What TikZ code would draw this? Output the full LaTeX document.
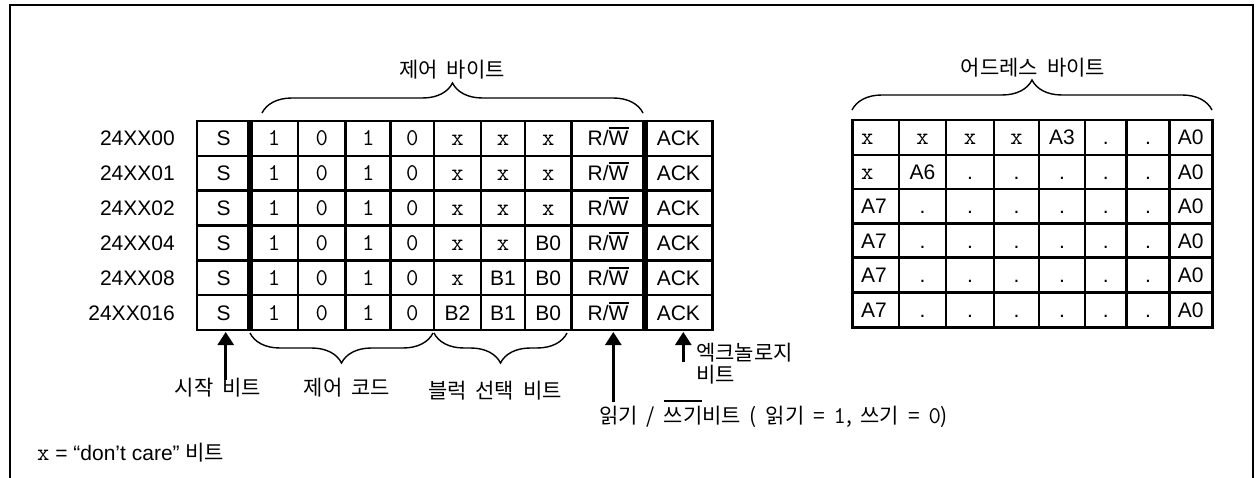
\documentclass[tikz,border=0pt]{standalone}
\usepackage{fontspec}
\setmainfont{Liberation Sans}
\newfontfamily\krf{Noto Sans CJK KR}
\usetikzlibrary{decorations.pathreplacing,arrows.meta}
\newcommand\fsz{\fontsize{21}{22}\selectfont}
\newcommand\krset{\fsz\krf\spaceskip=0.42em\relax}
\newcommand\monof{\fontsize{24}{22}\selectfont\ttfamily}
\newcommand\ovlk[2]{\leavevmode\vbox{\hrule height 2pt\kern #1\hbox{#2}}}
\newcommand\mx{{\monof x}}
\newcommand\dt{.}
\newcommand\RW{R/\ovlk{2pt}{W}}
\begin{document}
\begin{tikzpicture}[x=1pt,y=-1pt,
  grid/.style={line width=2.6pt, line cap=rect},
  sepline/.style={line width=6pt},
  txt/.style={inner sep=0pt, anchor=base, font=\fsz},
  kr/.style={inner sep=0pt, font=\krset},
  brc/.style={decorate, decoration={brace, amplitude=30pt}, line width=1.4pt},
  brcm/.style={decorate, decoration={brace, amplitude=30pt, mirror}, line width=1.4pt},
  arr/.style={line width=2.6pt, -{Triangle[width=16pt,length=13pt]}},
]
\useasboundingbox (0,0) rectangle (1260,478);
\draw[line width=2.6pt] (10,480) -- (10,5) -- (1253,5) -- (1253,480);

% ---------- left table ----------
\foreach \y in {121,155.83,190.67,225.5,260.33,295.17,330}
  \draw[grid] (197,\y) -- (712.3,\y);
\foreach \x in {197,298,345.7,390.7,434,481,525,571.7,712.3}
  \draw[grid] (\x,121) -- (\x,330);
\foreach \x in {250,644.5}
  \draw[sepline] (\x,119.7) -- (\x,331.3);

\foreach \lab/\ca/\cb/\cc [count=\i] in {24XX00/\mx/\mx/\mx, 24XX01/\mx/\mx/\mx, 24XX02/\mx/\mx/\mx, 24XX04/\mx/\mx/B0, 24XX08/\mx/B1/B0, 24XX016/B2/B1/B0}{
  \pgfmathsetmacro\yb{121+34.83*(\i-0.5)+7.5}
  \node[txt, anchor=base east] (lab\i) at (175,\yb) {\lab};
  \node[txt] (l\i s) at (223.5,\yb) {S};
  \node[txt] (l\i a) at (274,\yb) {\monof 1};
  \node[txt] (l\i b) at (321.8,\yb) {\monof 0};
  \node[txt] (l\i c) at (368.2,\yb) {\monof 1};
  \node[txt] (l\i d) at (412.3,\yb) {\monof 0};
  \node[txt] (l\i e) at (457.5,\yb) {\ca};
  \node[txt] (l\i f) at (503,\yb) {\cb};
  \node[txt] (l\i g) at (548.3,\yb) {\cc};
  \node[txt] (l\i h) at (608.1,\yb) {\RW};
  \node[txt] (l\i k) at (678.4,\yb) {ACK};
}

% ---------- right table ----------
\foreach \y in {120,155,189,223.3,257.7,292.7,327.3}
  \draw[grid] (852.7,\y) -- (1212.3,\y);
\foreach \x in {852.7,899,946,994,1039,1085,1126.7,1169.3,1212.3}
  \draw[grid] (\x,120) -- (\x,327.3);

\foreach \yy/\a/\b/\c/\d/\e/\f/\g/\h [count=\i] in {
  137.5/\mx/\mx/\mx/\mx/A3/\dt/\dt/A0,
  172/\mx/A6/\dt/\dt/\dt/\dt/\dt/A0,
  206.2/A7/\dt/\dt/\dt/\dt/\dt/\dt/A0,
  240.5/A7/\dt/\dt/\dt/\dt/\dt/\dt/A0,
  275.2/A7/\dt/\dt/\dt/\dt/\dt/\dt/A0,
  310/A7/\dt/\dt/\dt/\dt/\dt/\dt/A0}{
  \pgfmathsetmacro\yb{\yy+7.5}
  \node[txt, anchor=base west] (r\i a) at (861,\yb) {\a};
  \node[txt] (r\i b) at (922.5,\yb) {\b};
  \node[txt] (r\i c) at (970,\yb) {\c};
  \node[txt] (r\i d) at (1016.5,\yb) {\d};
  \node[txt] (r\i e) at (1062,\yb) {\e};
  \node[txt] (r\i f) at (1105.9,\yb) {\f};
  \node[txt] (r\i g) at (1148,\yb) {\g};
  \node[txt] (r\i h) at (1190.8,\yb) {\h};
}

% ---------- braces ----------
\coordinate (cb1) at (262,113);  \coordinate (cb2) at (643,113);
\draw[brc] (cb1) -- (cb2);
\node[kr] (cbl) at (452,70) {제어 바이트};

\coordinate (ab1) at (852,110);  \coordinate (ab2) at (1212,110);
\draw[brc] (ab1) -- (ab2);
\node[kr] (abl) at (1033,68) {어드레스 바이트};

\coordinate (cc1) at (250,333);  \coordinate (cc2) at (433,333);
\draw[brcm] (cc1) -- (cc2);
\node[kr] (ccl) at (347,388) {제어 코드};

\coordinate (bs1) at (434,333);  \coordinate (bs2) at (567,333);
\draw[brcm] (bs1) -- (bs2);
\node[kr] (bsl) at (495,391) {블럭 선택 비트};

% ---------- arrows and labels ----------
\node[kr] (stl) at (218,388) {시작 비트};
\coordinate (sa0) at (225.7,380); \coordinate (sa1) at (225.7,332);
\draw[arr] (sa0) -- (sa1);

\coordinate (rw0) at (613.3,402); \coordinate (rw1) at (613.3,332);
\draw[arr] (rw0) -- (rw1);
\node[kr, anchor=west] (rwl) at (599,414) {읽기 / \ovlk{4pt}{쓰기}비트 ( 읽기 = {\monof 1}, 쓰기 = {\monof 0})};

\coordinate (ak0) at (683.3,362); \coordinate (ak1) at (683.3,332);
\draw[arr] (ak0) -- (ak1);
\node[kr, anchor=west, align=left] (akl) at (696,364) {엑크놀로지\\비트};

\node[txt, anchor=west] (dc) at (37,453) {{\monof x} = “don’t care” {\krf 비트}};
\end{tikzpicture}
\end{document}
